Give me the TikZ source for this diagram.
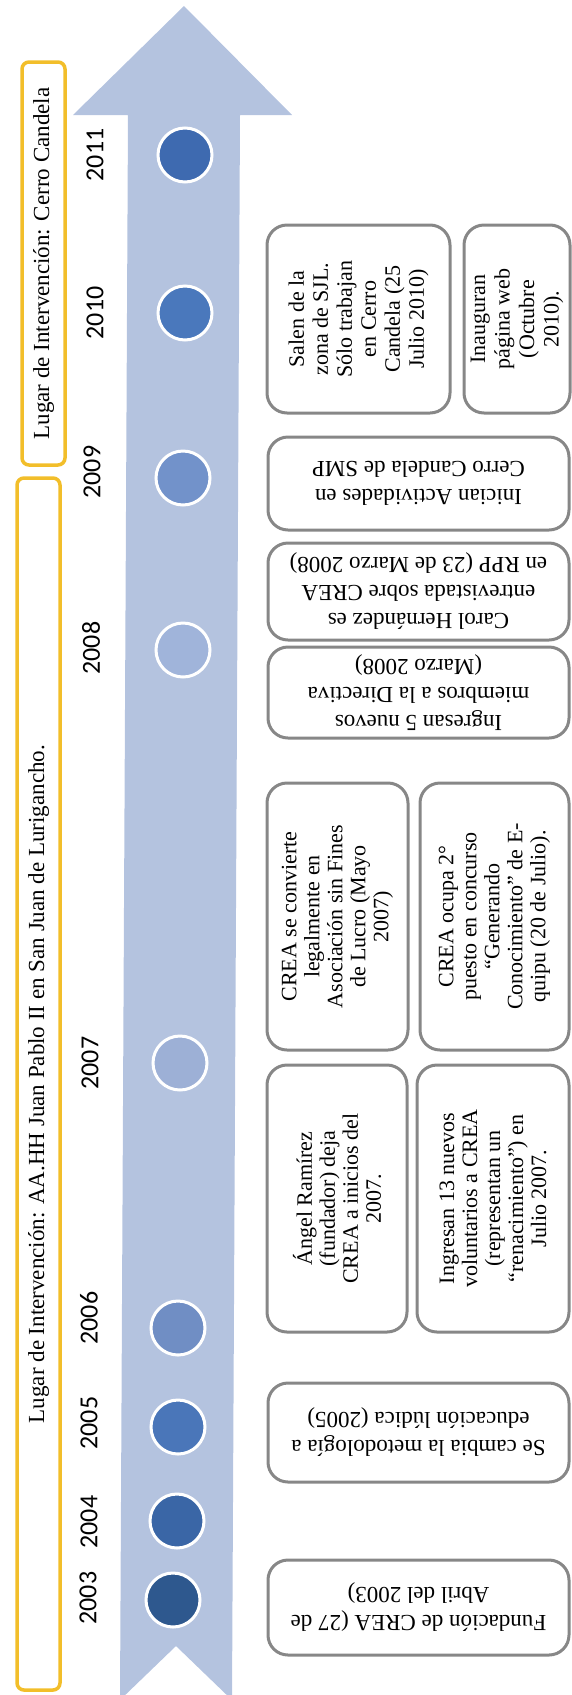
\documentclass[tikz,border=0pt]{standalone}
\usepackage{fontspec}
\setmainfont{Liberation Serif}
\newfontfamily\yearfont{Carlito}
\usepackage{tikz}
\definecolor{flecha}{RGB}{180,195,223}
\definecolor{amarillo}{RGB}{242,190,42}
\definecolor{gris}{RGB}{135,135,135}
\definecolor{azulA}{RGB}{46,88,142}
\definecolor{azulB}{RGB}{58,102,166}
\definecolor{azulC}{RGB}{74,118,185}
\definecolor{azulD}{RGB}{112,142,196}
\definecolor{azulE}{RGB}{157,176,214}
\definecolor{azulF}{RGB}{160,180,218}
\definecolor{azulG}{RGB}{114,146,202}
\definecolor{azulH}{RGB}{74,120,188}
\definecolor{azulI}{RGB}{62,106,176}

\begin{document}
\begin{tikzpicture}[x=1pt,y=-1pt,
  lugar/.style={draw=amarillo,line width=3.5pt,rounded corners=7pt,rotate=90,inner sep=0pt,
    font=\fontsize{23}{23}\selectfont},
  anio/.style={rotate=90,font={\yearfont\fontsize{26}{26}\selectfont}},
  punto/.style={circle,draw=white,line width=3pt,minimum size=54pt,inner sep=0pt},
  caja/.style={draw=gris,line width=3pt,rounded corners=20pt,fill=white,align=center,inner sep=0pt},
  hito/.style={caja,rotate=90,font=\fontsize{22}{23}\selectfont},
  hitoinv/.style={caja,rotate=180,font=\fontsize{23}{28}\selectfont}]
\useasboundingbox (0,0) rectangle (572,1695);

% flecha del tiempo
\fill[flecha] (120,1700) -- (128,115) -- (73,115) -- (184,6) -- (292,115)
  -- (240,115) -- (232,1700) -- (176,1646) -- cycle;

% lugares de intervencion
\node[lugar,minimum width=1212pt,minimum height=43pt] (sjlugar) at (38.5,1084)
  {Lugar de Intervención: AA.HH Juan Pablo II en San Juan de Lurigancho.};
\node[lugar,minimum width=403pt,minimum height=43pt] (cclugar) at (43.5,263.5)
  {Lugar de Intervención: Cerro Candela};

% anios
\node[anio] (a2003) at (88,1598) {2003};
\node[anio] (a2004) at (89,1522) {2004};
\node[anio] (a2005) at (89,1423) {2005};
\node[anio] (a2006) at (89,1318) {2006};
\node[anio] (a2007) at (90,1063) {2007};
\node[anio] (a2008) at (91,648) {2008};
\node[anio] (a2009) at (92,472) {2009};
\node[anio] (a2010) at (95,313) {2010};
\node[anio] (a2011) at (95,155) {2011};

% puntos
\node[punto,fill=azulA] (p2003) at (173,1600) {};
\node[punto,fill=azulB] (p2004) at (177,1521) {};
\node[punto,fill=azulC] (p2005) at (178,1427) {};
\node[punto,fill=azulD] (p2006) at (178,1328) {};
\node[punto,fill=azulE] (p2007) at (180,1063) {};
\node[punto,fill=azulF] (p2008) at (183,650) {};
\node[punto,fill=azulG] (p2009) at (183,478) {};
\node[punto,fill=azulH] (p2010) at (185,313) {};
\node[punto,fill=azulI] (p2011) at (185,155) {};

% hitos
\node[hitoinv,minimum width=301pt,minimum height=95pt] (fundacion) at (418.5,1607.5)
  {Fundación de CREA (27 de\\Abril del 2003)};
\node[hitoinv,minimum width=301pt,minimum height=99pt] (metodo) at (418.5,1432.5)
  {Se cambia la metodología a\\educación lúdica (2005)};
\node[hito,minimum width=267pt,minimum height=140pt] (ramirez) at (337,1198.5)
  {Ángel Ramírez\\(fundador) deja\\CREA a inicios del\\2007.};
\node[hito,minimum width=267pt,minimum height=152pt] (voluntarios) at (493,1198.5)
  {Ingresan 13 nuevos\\voluntarios a CREA\\(representan un\\“renacimiento”) en\\Julio 2007.};
\node[hito,minimum width=267pt,minimum height=141pt] (asociacion) at (337.5,916.5)
  {CREA se convierte\\legalmente en\\Asociación sin Fines\\de Lucro (Mayo\\2007)};
\node[hito,minimum width=267pt,minimum height=149pt] (equipu) at (494.5,916.5)
  {CREA ocupa 2°\\puesto en concurso\\“Generando\\Conocimiento” de E-\\quipu (20 de Julio).};
\node[hitoinv,minimum width=301pt,minimum height=91pt] (directiva) at (418.5,692.5)
  {Ingresan 5 nuevos\\miembros a la Directiva\\(Marzo 2008)};
\node[hitoinv,minimum width=301pt,minimum height=97pt] (rpp) at (418.5,591.5)
  {Carol Hernández es\\entrevistada sobre CREA\\en RPP (23 de Marzo 2008)};
\node[hitoinv,minimum width=301pt,minimum height=93pt] (smp) at (418.5,483.5)
  {Inician Actividades en\\Cerro Candela de SMP};
\node[hito,minimum width=188pt,minimum height=183pt,font=\fontsize{22}{24}\selectfont] (sjl) at (358.5,319)
  {Salen de la\\zona de SJL.\\Sólo trabajan\\en Cerro\\Candela (25\\Julio 2010)};
\node[hito,minimum width=188pt,minimum height=106pt,font=\fontsize{22}{24.5}\selectfont] (web) at (517,319)
  {Inauguran\\página web\\(Octubre\\2010).};
\end{tikzpicture}
\end{document}
